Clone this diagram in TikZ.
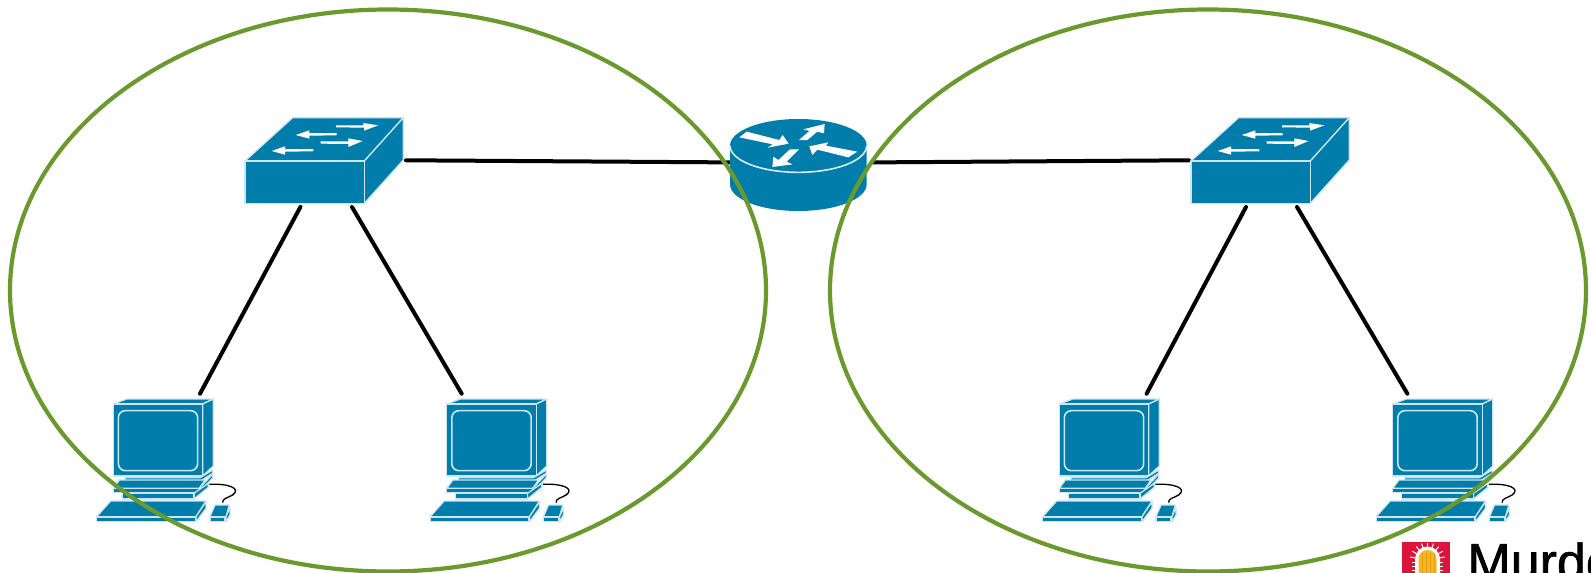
\documentclass[tikz,border=0pt]{standalone}
\usepackage{fontspec}
\usetikzlibrary{shapes.geometric}
\setmainfont{Liberation Sans}
\newfontfamily\brandfont[RawFeature={embolden=1.2}]{Liberation Sans}
\definecolor{cisco}{HTML}{007DAB}
\definecolor{netgreen}{HTML}{6A9A2E}
\definecolor{logored}{HTML}{DC143C}
\definecolor{logoyellow}{HTML}{F5B820}
\definecolor{logoorange}{HTML}{E89A10}
\tikzset{
  part/.style={fill=cisco,draw=white!80!cisco,line width=0.65pt,line join=round},
  wire/.style={draw=black,line width=2pt,line cap=round},
  zone/.style={draw=netgreen,line width=2.1pt,ellipse,inner sep=0,minimum width=378pt,minimum height=281pt},
  pcicon/.pic={
    \begin{scope}[scale=1/3]
    \filldraw[part] (70,42) -- (110,27) -- (370,27) -- (338,42) -- cycle;
    \filldraw[part] (338,42) -- (370,27) -- (370,228) -- (338,258) -- cycle;
    \filldraw[part] (70,42) rectangle (338,258);
    \draw[draw=white!80!cisco,line width=0.8pt,rounded corners=3.5pt] (85,62) rectangle (323,242);
    \filldraw[part] (105,263) -- (330,263) -- (368,240) -- (368,250) -- (330,274) -- (105,274) -- cycle;
    \filldraw[part] (70,295) -- (88,270) -- (345,270) -- (328,295) -- cycle;
    \filldraw[part] (328,295) -- (368,252) -- (368,264) -- (328,307) -- cycle;
    \filldraw[part] (70,295) rectangle (328,307);
    \filldraw[part] (312,310) -- (355,280) -- (355,292) -- (312,327) -- cycle;
    \filldraw[part] (97,310) rectangle (312,327);
    \filldraw[part] (20,380) -- (62,333) -- (348,333) -- (318,380) -- cycle;
    \filldraw[part] (318,380) -- (348,335) -- (348,355) -- (318,395) -- cycle;
    \filldraw[part] (20,382) rectangle (316,395);
    \filldraw[part] (360,380) -- (375,345) -- (418,345) -- (408,380) -- cycle;
    \filldraw[part] (408,380) -- (420,352) -- (420,375) -- (408,395) -- cycle;
    \filldraw[part] (360,382) rectangle (405,395);
    \draw[black,line width=0.65pt] (358,283) .. controls (415,280) and (455,295) .. (428,315) .. controls (412,324) and (396,326) .. (398,338);
    \end{scope}
  },
  switchicon/.pic={
    \begin{scope}[scale=1/3]
    \filldraw[part] (45,168) -- (188,38) -- (520,38) -- (403,168) -- cycle;
    \filldraw[part] (403,168) -- (520,38) -- (520,165) -- (403,295) -- cycle;
    \filldraw[part] (45,168) rectangle (403,295);
    \fill[white] (318,61) -- (400,61) -- (400,54) -- (445,61) -- (402,77) -- (402,68) -- (318,67) -- cycle;
    \fill[white] (197,90) -- (238,76) -- (238,84) -- (320,84) -- (320,91) -- (238,92) -- (238,101) -- cycle;
    \fill[white] (272,109) -- (355,109) -- (355,100) -- (398,108) -- (355,126) -- (355,117) -- (272,116) -- cycle;
    \fill[white] (125,138) -- (165,124) -- (165,132) -- (250,132) -- (250,139) -- (165,140) -- (165,149) -- cycle;
    \end{scope}
  },
  routericon/.pic={
    \begin{scope}[scale=1/3]
    \fill[cisco] (30,122) -- (30,238) arc[start angle=180,end angle=0,x radius=205,y radius=80] -- (440,122) -- cycle;
    \fill[cisco] (235,122) ellipse[x radius=205,y radius=80];
    \draw[white!85!cisco,line width=0.8pt] (30,122) arc[start angle=180,end angle=0,x radius=205,y radius=80];
    \fill[white] (58,97) -- (80,80) -- (178,105) -- (188,90) -- (206,116) -- (143,128) -- (158,118) -- cycle;
    \fill[white] (314,57) -- (250,73) -- (268,78) -- (237,105) -- (262,105) -- (292,80) -- (312,85) -- cycle;
    \fill[white] (268,124) -- (277,150) -- (292,134) -- (385,157) -- (412,140) -- (318,122) -- (325,112) -- cycle;
    \fill[white] (157,186) -- (218,178) -- (200,170) -- (237,133) -- (210,133) -- (175,165) -- (160,155) -- cycle;
    \end{scope}
  }
}
\begin{document}
\begin{tikzpicture}[x=0.5pt,y=-0.5pt]
\useasboundingbox (0,0) rectangle (1591,573);
\clip (0,0) rectangle (1591,573);
% connector end points
\coordinate (s1r) at (406,160.3);
\coordinate (rl) at (731,162.4);
\coordinate (rr) at (873.6,162.4);
\coordinate (s2l) at (1189,160.3);
\coordinate (s1a) at (300.4,207);
\coordinate (s1b) at (352,207);
\coordinate (s2a) at (1246,207);
\coordinate (s2b) at (1297,207);
\coordinate (p1) at (200,393.7);
\coordinate (p2) at (461.7,393.7);
\coordinate (p3) at (1146.6,393.7);
\coordinate (p4) at (1407.4,393.7);
\draw[wire] (s1r) -- (rl);
\draw[wire] (rr) -- (s2l);
\draw[wire] (s1a) -- (p1);
\draw[wire] (s1b) -- (p2);
\draw[wire] (s2a) -- (p3);
\draw[wire] (s2b) -- (p4);
\pic (sw1) at (230,105) {switchicon};
\pic (sw2) at (1176,105) {switchicon};
\pic (rt) at (720,105) {routericon};
\pic (pc1) at (90,390) {pcicon};
\pic (pc2) at (423.5,390) {pcicon};
\pic (pc3) at (1036,390) {pcicon};
\pic (pc4) at (1369.5,390) {pcicon};
\node[zone] (net1) at (388,290.5) {};
\node[zone] (net2) at (1208,290.5) {};
% logo
\node[fill=logored,inner sep=0,minimum width=24pt,minimum height=20pt,anchor=north west] (logo) at (1402,542) {};
\foreach \a in {10,30,...,170}
  \draw[white,line width=0.5pt] (1427.5,560) ++(-\a:10) -- ++(-\a:7.5);
\foreach \yy in {562,566,570}{
  \draw[white,line width=0.5pt] (1412,\yy) -- (1418,\yy);
  \draw[white,line width=0.5pt] (1437,\yy) -- (1443,\yy);
}
\fill[white] (1415,573) -- (1415,559) arc[start angle=180,end angle=360,x radius=12.5,y radius=12.5] -- (1440,573) -- cycle;
\fill[logoyellow] (1418.5,573) -- (1418.5,559) arc[start angle=180,end angle=360,x radius=9,y radius=9] -- (1436.5,573) -- cycle;
\foreach \xx in {1422,1426,1430,1434}
  \draw[logoorange,line width=0.5pt] (\xx,553) -- (\xx,573);
\node[anchor=base west,inner sep=0,font=\brandfont\fontsize{26pt}{30pt}\selectfont,text=black] (brand) at (1467,580) {Murdoch};
\end{tikzpicture}
\end{document}
